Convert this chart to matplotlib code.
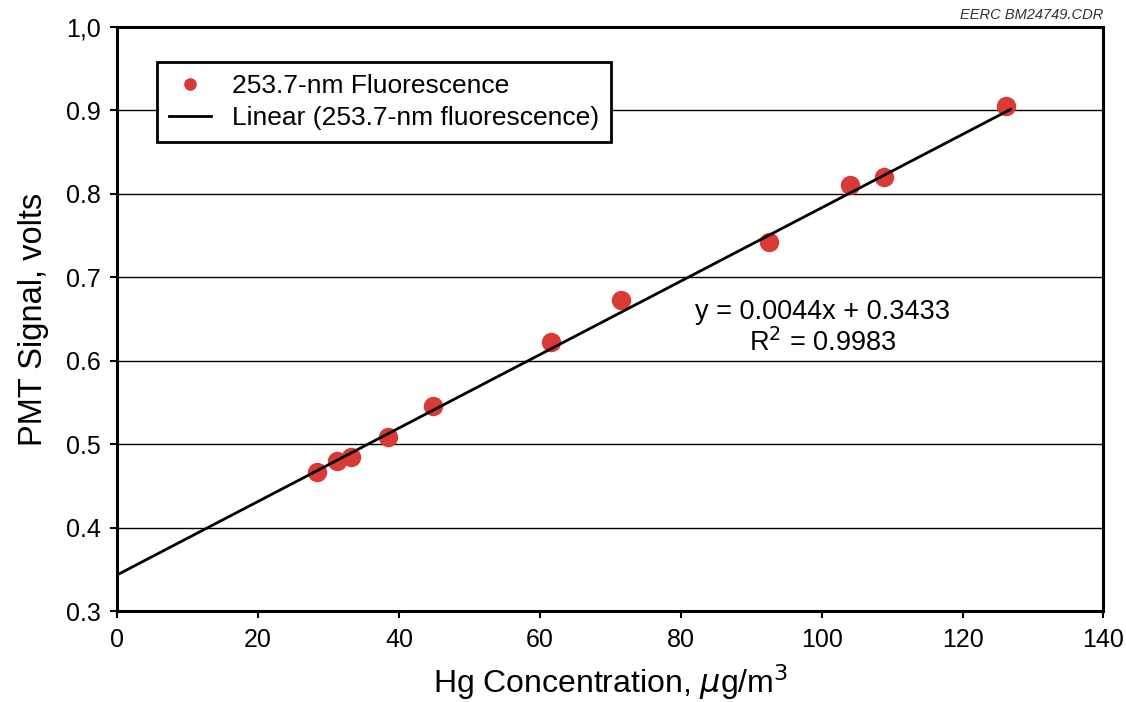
import matplotlib.pyplot as plt

plt.rcParams['font.family'] = ['Liberation Sans', 'DejaVu Sans']

# measured points
hg_conc = [28.4, 31.2, 33.2, 38.4, 44.8, 61.6, 71.5, 92.5, 104.0, 108.8, 126.2]
pmt_signal = [0.467, 0.480, 0.485, 0.508, 0.546, 0.622, 0.673, 0.742, 0.811, 0.820, 0.905]

# linear fit from the chart
slope = 0.0044
intercept = 0.3433
fit_x = [0, 126.8]
fit_y = [slope * x + intercept for x in fit_x]

yticks = [0.3, 0.4, 0.5, 0.6, 0.7, 0.8, 0.9, 1.0]
ytick_labels = ["0.3", "0.4", "0.5", "0.6", "0.7", "0.8", "0.9", "1,0"]
xticks = [0, 20, 40, 60, 80, 100, 120, 140]

fig = plt.figure(figsize=(11.26, 7.02), dpi=100)
ax = fig.add_axes([0.104, 0.1296, 0.876, 0.832])

for y in yticks[1:-1]:
    ax.axhline(y, color="black", lw=1.0, zorder=1)

ax.plot(hg_conc, pmt_signal, "o", color="#d93a35", markersize=14,
        markeredgewidth=0, label="253.7-nm Fluorescence", zorder=3)
ax.plot(fit_x, fit_y, color="black", lw=2.0,
        label="Linear (253.7-nm fluorescence)", zorder=4)

ax.set_xlim(0, 140)
ax.set_ylim(0.3, 1.0)
ax.set_xticks(xticks)
ax.set_yticks(yticks)
ax.set_yticklabels(ytick_labels)
ax.tick_params(labelsize=18, width=1.5, length=5, color="black")
ax.tick_params(axis="x", pad=7)
ax.tick_params(axis="y", pad=7)
for s in ax.spines.values():
    s.set_linewidth(2.2)

ax.set_xlabel("Hg Concentration, $\\mu$g/m$^3$", fontsize=23, labelpad=8)
ax.set_ylabel("PMT Signal, volts", fontsize=23.5, labelpad=12)

ax.text(100.1, 0.658, "y = 0.0044x + 0.3433", fontsize=19.5, ha="center", va="center")
ax.text(100.1, 0.622, "R$^2$ = 0.9983", fontsize=19.5, ha="center", va="center")

leg = ax.legend(loc="upper left", bbox_to_anchor=(0.0405, 0.94), fontsize=19,
                fancybox=False, framealpha=1, edgecolor="black",
                markerscale=0.65, handlelength=1.6, borderpad=0.45,
                labelspacing=0.3, borderaxespad=0)
leg.get_frame().set_linewidth(2.0)

fig.text(0.98, 0.968, "EERC BM24749.CDR", fontsize=10.5, style="italic",
         ha="right", va="bottom", color="#333333")

fig.savefig("out.png", dpi=100)
